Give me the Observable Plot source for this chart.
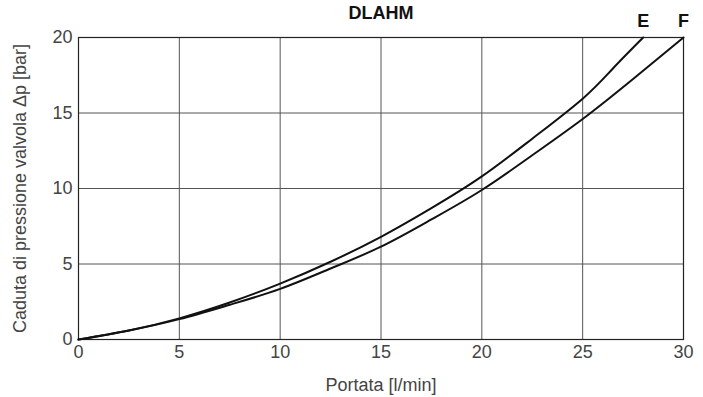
<!DOCTYPE html>
<html><head><meta charset="utf-8">
<script src="https://cdn.jsdelivr.net/npm/d3@7"></script>
<script src="https://cdn.jsdelivr.net/npm/@observablehq/plot@0.6"></script>
<style>
body{margin:0;background:#fff;}
svg{font-family:"Liberation Sans",Arial,sans-serif;}
</style>
</head><body><div id="chart"></div>
<script>
const title = "DLAHM";
const xLabel = "Portata [l/min]";
const yLabel = "Caduta di pressione valvola Δp [bar]";
const xTicks = [0, 5, 10, 15, 20, 25, 30];
const yTicks = [0, 5, 10, 15, 20];
const flowE = [0, 2.5, 5, 7.5, 10, 12.5, 15, 17.5, 20, 22.5, 25, 26.5, 28];
const dpE   = [0, 0.6, 1.4, 2.45, 3.7, 5.15, 6.8, 8.7, 10.8, 13.3, 15.95, 17.95, 20];
const flowF = [0, 2.5, 5, 7.5, 10, 12.5, 15, 17.5, 20, 22.5, 25, 27.5, 30];
const dpF   = [0, 0.6, 1.35, 2.3, 3.35, 4.7, 6.15, 7.95, 9.9, 12.2, 14.6, 17.25, 20];
const seriesNames = ["E", "F"];

const data = [
  ...flowE.map((q, i) => ({series: "E", q, dp: dpE[i]})),
  ...flowF.map((q, i) => ({series: "F", q, dp: dpF[i]}))
];
const ends = seriesNames.map(s => data.filter(d => d.series === s).at(-1));

const chart = Plot.plot({
  width: 703, height: 397,
  marginLeft: 78, marginRight: 20, marginTop: 37, marginBottom: 58,
  style: {fontFamily: "Liberation Sans, Arial, sans-serif", background: "#fff", fontSize: "18px"},
  x: {domain: [0, 30], label: null},
  y: {domain: [0, 20], label: null},
  marks: [
    Plot.gridX(xTicks, {stroke: "#555", strokeOpacity: 1, strokeWidth: 1}),
    Plot.gridY(yTicks, {stroke: "#555", strokeOpacity: 1, strokeWidth: 1}),
    Plot.frame({stroke: "#222", strokeWidth: 1.2}),
    Plot.axisX(xTicks, {tickSize: 0, tickPadding: 6, fontSize: 18, fill: "#444", label: null}),
    Plot.axisY(yTicks, {tickSize: 0, tickPadding: 6, fontSize: 18, fill: "#444", label: null}),
    Plot.line(data, {x: "q", y: "dp", z: "series", curve: "natural", stroke: "#111", strokeWidth: 2}),
    Plot.text(ends, {x: "q", y: "dp", text: "series", dy: -16, fontSize: 18, fontWeight: "bold", fill: "#111"}),
    Plot.text([title], {frameAnchor: "top", dy: -31, fontSize: 18, fontWeight: "bold", fill: "#111"}),
    Plot.text([xLabel], {frameAnchor: "bottom", dy: 51, fontSize: 18, fill: "#444"}),
    Plot.text([yLabel], {frameAnchor: "left", dx: -58, rotate: -90, textAnchor: "middle", fontSize: 18, fill: "#444"})
  ]
});
document.getElementById("chart").appendChild(chart);
</script>
</body></html>
